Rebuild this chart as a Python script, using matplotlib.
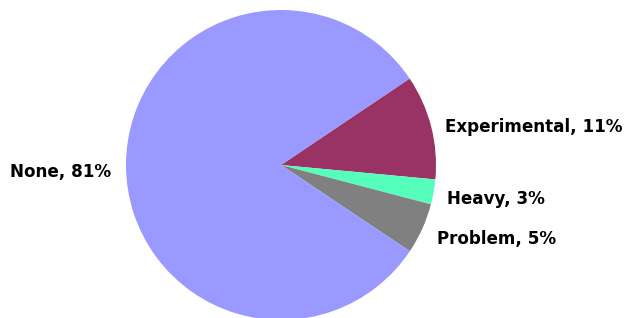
import matplotlib
matplotlib.use("Agg")
import matplotlib.pyplot as plt

categories = ["Experimental", "Heavy", "Problem", "None"]
values = [10.9, 2.6, 5.3, 81.2]
colors = ["#993366", "#55FFBB", "#808080", "#9999FF"]

fig = plt.figure(figsize=(6.24, 3.18), dpi=100)
ax = fig.add_axes([0, 0, 1, 1])
ax.pie(values, colors=colors, startangle=33.9, counterclock=False,
       radius=1.0, center=(0, 0), wedgeprops=dict(linewidth=0))
ax.set_xlim(-281 / 155, (624 - 281) / 155)
ax.set_ylim((165 - 318) / 155, 165 / 155)
ax.set_aspect("auto")
ax.axis("off")

label_pos = {
    "Experimental": (1.055, 0.245, "left"),
    "Heavy": (1.071, -0.219, "left"),
    "Problem": (1.006, -0.477, "left"),
    "None": (-1.097, -0.045, "right"),
}
for cat, v in zip(categories, values):
    x, y, ha = label_pos[cat]
    ax.text(x, y, f"{cat}, {round(v):d}%", ha=ha, va="center",
            fontsize=12.1, fontweight="bold", family="DejaVu Sans", color="black")

fig.savefig("out.png", dpi=100)
